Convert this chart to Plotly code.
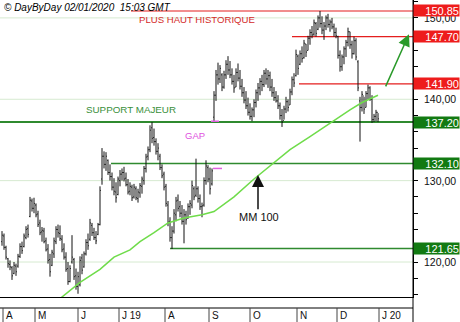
import plotly.graph_objects as go

# ---------------- data ----------------
highs = [123.8,123.5,122.0,120.5,120.2,119.5,120.0,119.8,121.0,122.3,122.5,123.5,124.4,124.6,128.0,127.8,127.9,127.2,126.3,125.2,
         124.3,124.2,123.0,122.2,121.0,121.5,123.0,124.4,124.6,124.5,123.3,122.3,121.2,120.0,119.6,123.3,120.5,119.2,118.8,120.7,
         121.0,121.3,122.8,123.5,125.3,124.8,124.2,123.8,124.8,129.3,134.0,133.6,133.5,132.6,132.0,131.0,130.3,129.8,130.5,131.3,
         131.5,131.7,131.0,130.2,129.8,129.5,129.6,129.3,129.0,129.7,130.5,131.8,133.3,134.2,136.8,137.2,136.4,135.2,134.6,133.3,
         132.0,131.1,129.6,127.5,125.5,124.4,126.5,128.0,128.3,127.5,127.0,126.5,126.3,127.2,127.6,130.0,129.3,132.7,129.3,128.3,
         127.3,130.4,132.5,131.9,131.6,131.5,141.0,143.6,144.5,144.2,143.2,143.5,144.8,145.3,144.7,143.8,143.0,143.8,144.4,143.6,
         142.5,141.5,141.0,140.2,139.5,139.0,140.0,141.2,142.0,142.6,143.0,143.6,143.8,143.6,143.4,142.5,141.5,141.0,140.5,139.6,
         138.8,139.2,140.3,140.0,141.3,142.8,143.2,146.1,145.5,146.0,146.5,147.3,146.8,147.8,148.6,149.0,149.8,149.5,150.3,150.85,
         150.2,149.5,150.3,150.5,149.8,150.0,149.3,148.8,147.8,146.0,145.5,146.5,147.3,148.8,148.3,147.2,147.7,147.5,144.8,140.3,
         141.0,140.3,141.0,141.8,141.6,140.5,138.2,138.7,138.3]
lows = [122.0,121.5,120.3,119.3,119.0,117.8,118.5,118.3,119.3,120.5,121.0,121.8,122.8,123.0,125.5,126.2,126.0,125.5,124.3,123.3,
        122.5,122.3,121.3,119.8,118.2,119.5,120.5,122.2,123.0,122.6,121.2,120.3,118.8,117.2,117.5,119.8,117.8,116.6,116.1,117.0,
        118.5,119.3,120.8,121.5,122.6,123.2,122.7,122.2,123.3,124.5,129.5,131.5,131.2,130.7,130.0,128.8,128.2,127.3,128.2,129.3,
        130.0,129.9,129.3,128.3,128.2,127.5,127.8,127.6,127.3,127.9,128.4,129.5,131.0,132.5,133.5,134.6,134.3,133.2,132.5,131.3,
        130.3,128.8,126.8,124.4,122.5,121.6,123.5,125.0,126.2,125.5,124.6,122.3,124.6,125.3,125.8,126.6,127.6,128.0,127.3,126.4,
        125.5,126.8,129.5,129.8,128.3,129.4,137.3,139.8,141.8,142.0,141.0,141.3,142.5,143.0,142.6,141.8,140.8,141.5,142.2,141.2,
        140.3,139.5,138.8,138.0,137.5,137.3,137.8,139.0,139.8,140.5,141.0,141.5,141.8,141.4,141.0,140.3,139.8,139.6,138.8,137.5,
        136.6,137.5,138.3,138.5,139.3,140.5,141.5,142.8,143.0,144.2,144.5,145.0,145.2,146.0,146.7,147.5,147.8,147.7,148.5,148.8,
        148.0,147.3,148.5,148.8,148.3,148.6,147.7,147.5,145.0,143.4,143.5,144.3,145.2,146.5,146.2,145.0,145.5,144.8,141.0,134.8,
        138.5,138.2,139.0,140.0,139.8,137.1,137.2,137.3,137.2]
opens = [122.5,123.2,121.8,120.4,119.7,119.3,118.6,119.5,119.5,120.7,121.9,121.9,123.0,124.1,125.6,127.5,126.6,127.0,125.9,124.8,
         123.7,123.8,122.6,121.6,120.3,119.6,121.0,122.5,124.0,123.5,122.8,121.6,120.6,119.2,117.6,120.0,120.3,118.3,117.0,117.2,
         120.5,119.4,121.0,122.4,122.8,124.5,123.6,123.0,123.4,124.6,130.2,133.0,132.0,132.5,131.0,130.5,129.2,128.6,128.3,130.0,
         130.8,131.0,130.3,129.5,128.7,129.2,128.0,129.0,127.8,128.5,129.3,130.0,131.5,133.0,133.8,136.5,135.3,134.8,133.6,133.0,
         131.6,130.8,129.3,127.0,125.0,123.0,123.8,125.8,127.6,126.8,126.0,125.0,125.8,125.4,126.8,127.0,129.0,128.2,129.0,127.8,
         126.8,127.0,130.0,131.6,130.2,129.6,137.8,140.5,143.0,142.5,143.0,141.5,143.0,144.3,143.6,143.0,142.2,141.5,143.3,142.6,
         141.6,140.8,139.9,139.2,138.4,137.9,138.7,139.6,140.8,141.4,142.2,141.8,143.2,142.5,142.9,141.5,140.8,140.2,139.8,139.2,
         138.0,137.4,138.8,139.7,139.3,140.9,142.4,142.9,145.3,144.3,145.6,145.1,146.8,146.0,147.5,148.2,148.0,149.3,148.6,150.0,
         149.3,148.5,149.0,150.0,149.2,149.5,148.9,148.2,147.7,145.4,144.0,145.2,146.2,147.0,148.3,146.7,145.6,147.2,144.6,139.8,
         139.0,140.4,139.0,140.7,141.4,140.0,137.5,137.9,138.4]
closes = [123.3,121.8,120.6,119.8,119.4,118.3,119.6,118.8,120.7,121.9,121.4,123.2,124.0,123.4,127.6,126.6,127.2,125.8,124.6,123.6,
          123.9,122.5,121.5,120.2,118.8,121.2,122.6,124.0,123.6,122.9,121.5,120.6,119.1,117.6,119.2,120.6,118.2,117.0,118.2,120.2,
          119.0,121.0,122.4,122.0,124.8,123.6,123.0,122.6,124.6,128.8,133.0,132.0,133.0,131.0,130.5,129.2,128.7,127.9,130.2,130.8,
          131.0,130.2,129.5,128.6,129.3,127.9,129.2,127.9,128.6,129.4,130.2,131.5,132.9,133.8,136.2,135.2,134.8,133.6,134.0,131.6,
          130.6,129.2,127.2,124.9,123.0,123.8,126.0,127.5,126.6,126.0,125.0,125.8,125.2,126.8,127.2,129.4,128.0,129.0,127.8,126.8,
          126.9,130.0,131.8,130.2,129.0,131.2,140.5,143.0,142.5,143.8,141.5,143.0,144.3,143.6,143.0,142.2,141.4,143.3,142.6,141.6,
          140.8,139.9,139.2,138.4,137.9,138.7,139.6,140.8,141.4,142.2,141.8,143.2,142.5,142.9,141.5,140.8,140.2,139.8,139.2,138.0,
          137.2,138.8,139.7,139.0,140.9,142.4,142.0,145.5,143.8,145.6,145.0,146.9,145.8,147.5,148.2,147.9,149.4,148.1,150.0,149.3,
          148.5,149.0,150.0,149.2,149.5,148.9,148.2,147.8,145.4,144.0,145.2,146.2,147.0,148.3,146.7,145.6,147.2,145.2,141.4,139.0,
          140.6,138.8,140.7,141.4,140.0,137.5,137.9,138.4,137.6]
bar_idx = list(range(len(closes)))

# 100-day moving average (bar index -> value)
ma_idx = [28, 39, 49, 56, 64, 69, 76, 83, 91, 100, 106, 116, 126, 134, 144, 154, 164, 174, 180, 188]
ma_val = [115.3, 117.5, 119.1, 120.6, 121.5, 122.5, 123.6, 124.8, 125.4, 125.8, 126.2, 128.0, 130.2, 131.8,
          133.8, 135.4, 137.1, 138.7, 139.6, 140.5]

# horizontal levels: value, start index, kind
level_vals = [150.85, 147.70, 141.90, 137.20, 132.10, 121.65]
level_start = [64.5, 145.0, 148.5, -1.0, 54.5, 84.0]
level_text = ["150.85", "147.70", "141.90", "137.20", "132.10", "121.65"]
level_kind = ["res", "res", "res", "sup", "sup", "sup"]

grid_vals = [120, 130, 140, 150]
tick_labels = ["120,00", "130,00", "140,00", "150,00"]

month_pos = [0.5, 16.5, 38, 58.5, 81.5, 103.5, 124, 147.5, 167.5, 188.5]
month_lab = ["A", "M", "J", "J 19", "A", "S", "O", "N", "D", "J 20"]

gap_low, gap_high = 131.5, 137.3
gap_span = [104.5, 108.5]

# ---------------- figure ----------------
FONT = "Liberation Sans, Arial, sans-serif"
RED = "#e41e1e"
DGREEN = "#2f8a2f"
XR = [-1.0, 205.5]
YR = [115.7, 152.2]
PW, PH = 413, 297  # plot area pixel size

fig = go.Figure()

shapes = []
for g in grid_vals:
    shapes.append(dict(type="line", xref="paper", yref="y", x0=0, x1=1, y0=g, y1=g,
                       line=dict(color="#d6ead0", width=1), layer="below"))

for v, s, k in zip(level_vals, level_start, level_kind):
    col = RED if k == "res" else DGREEN
    w = 2 if v == 137.20 else (1.5 if k == "sup" else 1.2)
    shapes.append(dict(type="line", xref="x", yref="y", x0=s, x1=XR[1], y0=v, y1=v,
                       line=dict(color=col, width=w), layer="below"))

# gap markers
shapes.append(dict(type="line", xref="x", yref="y", x0=gap_span[0] + 1, x1=gap_span[1] + 1.5,
                   y0=gap_low, y1=gap_low, line=dict(color="#e060e0", width=1.5)))
shapes.append(dict(type="line", xref="x", yref="y", x0=gap_span[0], x1=gap_span[1],
                   y0=gap_high, y1=gap_high, line=dict(color="#e060e0", width=1.5)))

# bottom band lines + month separators
by1 = -11 / PH
by2 = -25 / PH
shapes.append(dict(type="line", xref="paper", yref="paper", x0=0, x1=1, y0=by1, y1=by1,
                   line=dict(color="black", width=1)))
shapes.append(dict(type="line", xref="paper", yref="paper", x0=1, x1=1, y0=by2, y1=1,
                   line=dict(color="black", width=1)))
for mp in month_pos:
    shapes.append(dict(type="line", xref="x", yref="paper", x0=mp, x1=mp, y0=by1, y1=by2,
                       line=dict(color="#444444", width=1)))

fig.add_trace(go.Scatter(x=ma_idx, y=ma_val, mode="lines",
                         line=dict(color="#6fdc4a", width=1.5), hoverinfo="skip"))

fig.add_trace(go.Ohlc(x=bar_idx, open=opens, high=highs, low=lows, close=closes,
                      increasing=dict(line=dict(color="#111111", width=1)),
                      decreasing=dict(line=dict(color="#111111", width=1)),
                      tickwidth=0.4))

ann = []
# header
ann.append(dict(xref="paper", yref="paper", x=2 / PW, y=1 - 8 / PH, xanchor="left", yanchor="middle",
                text="<i>© DayByDay 02/01/2020  15:03 GMT</i>", showarrow=False,
                font=dict(family=FONT, size=10, color="black")))
# right tick labels
for g, t in zip(grid_vals, tick_labels):
    ann.append(dict(xref="paper", yref="y", x=458 / PW, y=g, xanchor="right", yanchor="middle",
                    text=t, showarrow=False, font=dict(family=FONT, size=10.5, color="#111111")))
# level boxes
for v, t, k in zip(level_vals, level_text, level_kind):
    col = "#ee1c1c" if k == "res" else "#127a12"
    ann.append(dict(xref="paper", yref="y", x=1.0, y=v, xanchor="left", yanchor="middle",
                    text=t, showarrow=False, width=45, height=11, align="right",
                    bgcolor=col, borderpad=0,
                    font=dict(family=FONT, size=11, color="white")))
# month labels
for mp, ml in zip(month_pos, month_lab):
    ann.append(dict(xref="x", yref="paper", x=mp + 0.4, y=-18 / PH, xanchor="left", yanchor="middle",
                    text=ml, showarrow=False, font=dict(family=FONT, size=10, color="#111111")))
# chart texts
ann.append(dict(xref="x", yref="y", x=97.5, y=149.75, text="PLUS HAUT HISTORIQUE", showarrow=False,
                font=dict(family=FONT, size=9.6, color="#d42a2a")))
ann.append(dict(xref="x", yref="y", x=64.5, y=138.75, text="SUPPORT MAJEUR", showarrow=False,
                font=dict(family=FONT, size=9.8, color="#3a8f3a")))
ann.append(dict(xref="x", yref="y", x=96.5, y=135.5, text="GAP", showarrow=False,
                font=dict(family=FONT, size=9.5, color="#e050e0")))
ann.append(dict(xref="x", yref="y", x=128.5, y=125.55, text="MM 100", showarrow=False,
                font=dict(family=FONT, size=11, color="#111111")))
# arrows
ann.append(dict(xref="x", yref="y", axref="x", ayref="y", x=128.0, y=130.7, ax=128.0, ay=126.3,
                text="", showarrow=True, arrowhead=2, arrowsize=1.6, arrowwidth=1.5, arrowcolor="#111111"))
ann.append(dict(xref="x", yref="y", axref="x", ayref="y", x=203.5, y=148.0, ax=191.5, ay=141.4,
                text="", showarrow=True, arrowhead=2, arrowsize=1.6, arrowwidth=1.5, arrowcolor="#2a9a2a"))

fig.update_layout(
    width=460, height=322,
    margin=dict(l=0, r=460 - PW, t=0, b=322 - PH),
    paper_bgcolor="white", plot_bgcolor="white",
    showlegend=False, shapes=shapes, annotations=ann,
    xaxis=dict(range=XR, showticklabels=False, showgrid=False, zeroline=False,
               showline=True, linecolor="black", linewidth=1, ticks="",
               rangeslider=dict(visible=False), fixedrange=True),
    yaxis=dict(range=YR, side="right", showgrid=False, zeroline=False, showline=True,
               linecolor="black", linewidth=1, ticks="outside", ticklen=4, tickcolor="black",
               tick0=0, dtick=2, showticklabels=False, fixedrange=True),
)

fig.write_html("out.html")
